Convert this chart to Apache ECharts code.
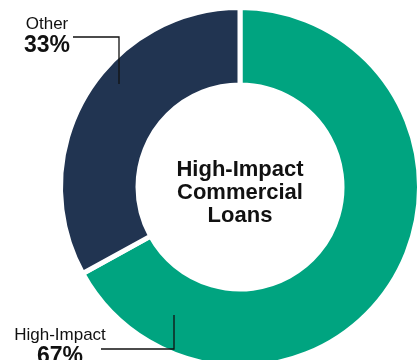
<!DOCTYPE html>
<html>
<head>
<meta charset="utf-8">
<script src="https://cdn.jsdelivr.net/npm/echarts@6/dist/echarts.min.js"></script>
<style>
  html, body { margin: 0; padding: 0; background: #ffffff; }
  #chart { width: 420px; height: 360px; }
</style>
</head>
<body>
<div id="chart"></div>
<script>
// Loan mix shares (percent)
const categories = ['High-Impact', 'Other'];
const shares = [67, 33];
const sliceColors = ['#00a480', '#213451'];
const centerTitle = 'High-Impact\nCommercial\nLoans';

// Label placement: text block centre-top and elbow leader points per slice
const labelSpots = [
  { x: 60, y: 325, line: [[174, 315], [174, 349], [101, 349]] },
  { x: 47, y: 14, line: [[119, 84], [119, 37], [73, 37]] }
];

const FONT = "'Liberation Sans', Arial, sans-serif";

const labelRich = {
  n: { fontFamily: FONT, fontSize: 17, lineHeight: 21, fill: '#111111', align: 'center' },
  v: { fontFamily: FONT, fontSize: 23, fontWeight: 'bold', lineHeight: 22, fill: '#111111', align: 'center' }
};

// Slice labels and elbow leader lines, drawn above the ring
const labelGraphics = [];
categories.forEach((name, i) => {
  const spot = labelSpots[i];
  labelGraphics.push({
    type: 'polyline',
    z: 100,
    silent: true,
    shape: { points: spot.line },
    style: { stroke: '#111111', lineWidth: 1.3, fill: null }
  });
  labelGraphics.push({
    type: 'text',
    z: 100,
    silent: true,
    x: spot.x,
    y: spot.y,
    style: {
      text: '{n|' + name + '}\n{v|' + shares[i] + '%}',
      rich: labelRich,
      textAlign: 'center',
      textVerticalAlign: 'top'
    }
  });
});

const chart = echarts.init(document.getElementById('chart'), null, { renderer: 'canvas' });

chart.setOption({
  animation: false,
  backgroundColor: '#ffffff',
  graphic: [{
    type: 'text',
    x: 240,
    y: 193,
    style: {
      text: centerTitle,
      textAlign: 'center',
      textVerticalAlign: 'middle',
      fontFamily: FONT,
      fontSize: 22,
      fontWeight: 'bold',
      lineHeight: 23,
      fill: '#111111'
    }
  }].concat(labelGraphics),
  series: [{
    type: 'pie',
    center: [240, 187],
    radius: [102, 179.5],
    startAngle: 90,
    clockwise: true,
    silent: true,
    emphasis: { disabled: true },
    itemStyle: { borderColor: '#ffffff', borderWidth: 5 },
    label: { show: false },
    labelLine: { show: false },
    data: categories.map((name, i) => ({
      name,
      value: shares[i],
      itemStyle: { color: sliceColors[i] }
    }))
  }]
});
</script>
</body>
</html>
